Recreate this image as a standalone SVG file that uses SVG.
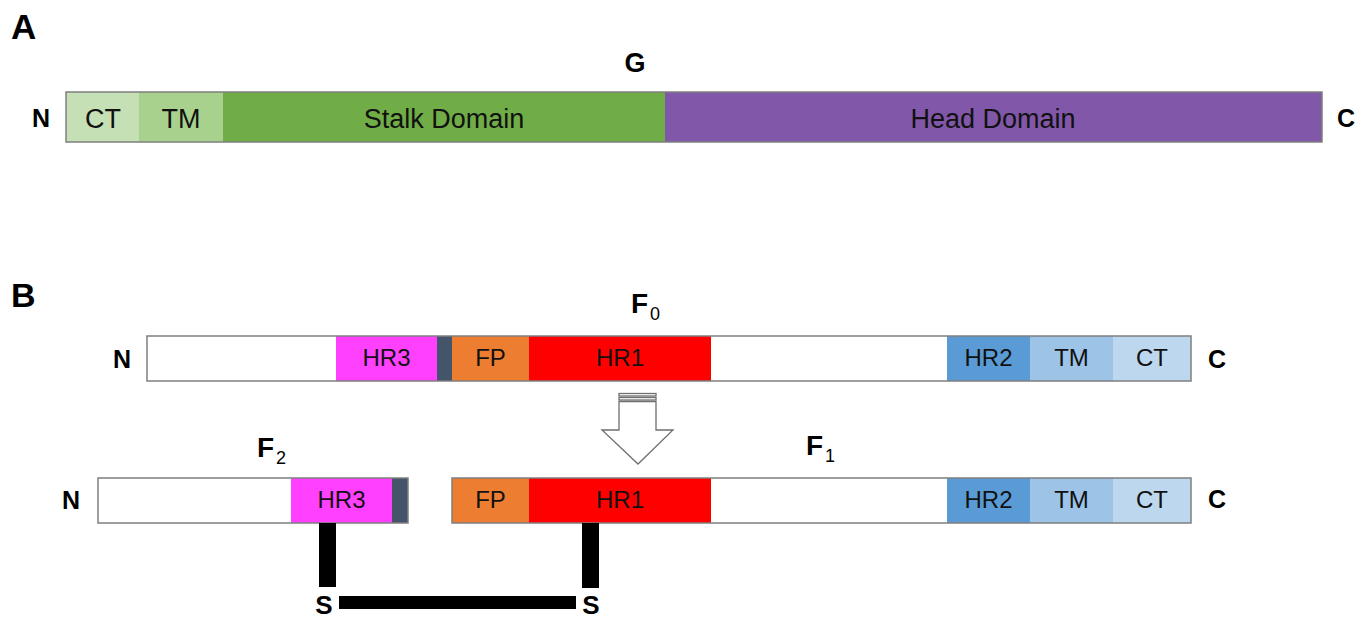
<svg xmlns="http://www.w3.org/2000/svg" width="1370" height="620" viewBox="0 0 1370 620">
<style>
.lbl{font-family:"Liberation Sans",Arial,sans-serif;font-weight:bold;fill:#000}
.dom{font-family:"Liberation Sans",Arial,sans-serif;fill:#111;text-anchor:middle}
.a{font-size:27px}
.b{font-size:24px}
.frame{fill:none;stroke:#7f7f7f;stroke-width:1.5}
.ss{fill:#000}
</style>
<rect width="1370" height="620" fill="#fff"/>
<text class="lbl" x="11" y="39" font-size="35">A</text>
<text class="lbl" x="11" y="307" font-size="34">B</text>

<g id="G">
<text class="lbl" x="635" y="72" font-size="27" text-anchor="middle">G</text>
<text class="lbl" x="41" y="127" font-size="25" text-anchor="middle">N</text>
<text class="lbl" x="1346" y="127" font-size="25" text-anchor="middle">C</text>
<rect x="66" y="92" width="73" height="50" fill="#C5E0B4"/>
<rect x="139" y="92" width="84" height="50" fill="#A9D18E"/>
<rect x="223" y="92" width="442" height="50" fill="#70AD47"/>
<rect x="665" y="92" width="657" height="50" fill="#8157A9"/>
<rect class="frame" x="66" y="92" width="1256" height="50"/>
<text class="dom a" x="103" y="128">CT</text>
<text class="dom a" x="181" y="128">TM</text>
<text class="dom a" x="444" y="128">Stalk Domain</text>
<text class="dom a" x="993" y="128">Head Domain</text>
</g>

<g id="F0">
<text class="lbl" x="631" y="313" font-size="28">F<tspan font-size="18" font-weight="normal" dx="2" dy="7">0</tspan></text>
<text class="lbl" x="122" y="368" font-size="25" text-anchor="middle">N</text>
<text class="lbl" x="1217" y="368" font-size="25" text-anchor="middle">C</text>
<rect x="147" y="336" width="1044" height="45" fill="#fff"/>
<rect x="336" y="336" width="101" height="45" fill="#FF40FF"/>
<rect x="437" y="336" width="15" height="45" fill="#44546A"/>
<rect x="452" y="336" width="77" height="45" fill="#ED7D31"/>
<rect x="529" y="336" width="182" height="45" fill="#FF0000"/>
<rect x="947" y="336" width="83" height="45" fill="#5B9BD5"/>
<rect x="1030" y="336" width="83" height="45" fill="#9DC3E6"/>
<rect x="1113" y="336" width="78" height="45" fill="#BDD7EE"/>
<rect class="frame" x="147" y="336" width="1044" height="45"/>
<text class="dom b" x="386.5" y="366">HR3</text>
<text class="dom b" x="490.5" y="366">FP</text>
<text class="dom b" x="620" y="366">HR1</text>
<text class="dom b" x="988.5" y="366">HR2</text>
<text class="dom b" x="1071.5" y="366">TM</text>
<text class="dom b" x="1152" y="366">CT</text>
</g>

<g id="cleavage-arrow" fill="#fff" stroke="#6f6f6f" stroke-width="1.3">
<rect x="619" y="393.5" width="37" height="2.5"/>
<rect x="619" y="397.5" width="37" height="2.5"/>
<path d="M619,401.5 H656 V430 H673 L638,464 L602,430 H619 Z"/>
</g>

<g id="F2">
<text class="lbl" x="257" y="457" font-size="28">F<tspan font-size="18" font-weight="normal" dx="2" dy="7">2</tspan></text>
<text class="lbl" x="71" y="509" font-size="25" text-anchor="middle">N</text>
<rect x="98" y="478" width="310" height="45" fill="#fff"/>
<rect x="291" y="478" width="101" height="45" fill="#FF40FF"/>
<rect x="392" y="478" width="16" height="45" fill="#44546A"/>
<rect class="frame" x="98" y="478" width="310" height="45"/>
<text class="dom b" x="341.5" y="508">HR3</text>
</g>

<g id="F1">
<text class="lbl" x="806" y="455" font-size="28">F<tspan font-size="18" font-weight="normal" dx="2" dy="7">1</tspan></text>
<text class="lbl" x="1217" y="508" font-size="25" text-anchor="middle">C</text>
<rect x="452" y="478" width="739" height="45" fill="#fff"/>
<rect x="452" y="478" width="77" height="45" fill="#ED7D31"/>
<rect x="529" y="478" width="182" height="45" fill="#FF0000"/>
<rect x="947" y="478" width="83" height="45" fill="#5B9BD5"/>
<rect x="1030" y="478" width="83" height="45" fill="#9DC3E6"/>
<rect x="1113" y="478" width="78" height="45" fill="#BDD7EE"/>
<rect class="frame" x="452" y="478" width="739" height="45"/>
<text class="dom b" x="490.5" y="508">FP</text>
<text class="dom b" x="620" y="508">HR1</text>
<text class="dom b" x="988.5" y="508">HR2</text>
<text class="dom b" x="1071.5" y="508">TM</text>
<text class="dom b" x="1152" y="508">CT</text>
</g>

<g id="connectors">
<rect class="ss" x="319" y="523" width="17" height="64"/>
<rect class="ss" x="582" y="523" width="17" height="65"/>
<rect class="ss" x="339" y="596" width="237" height="13"/>
</g>
<g id="disulfide-labels">
<text class="lbl" x="324" y="614" font-size="26" text-anchor="middle">S</text>
<text class="lbl" x="591" y="614" font-size="26" text-anchor="middle">S</text>
</g>
</svg>
